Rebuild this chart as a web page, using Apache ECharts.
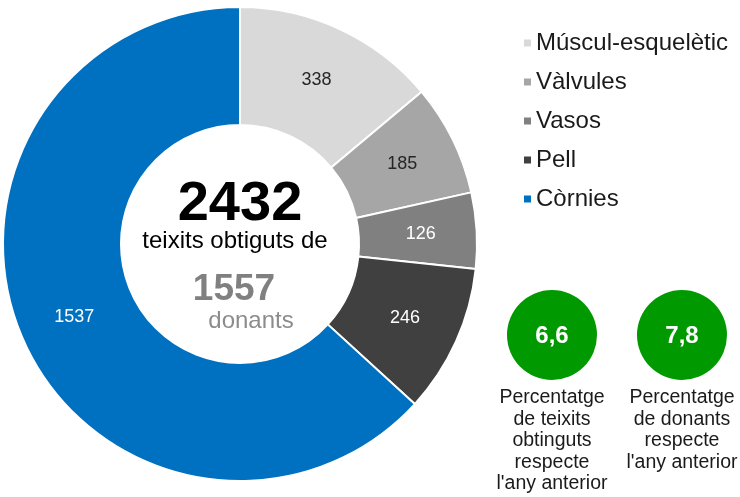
<!DOCTYPE html>
<html>
<head>
<meta charset="utf-8">
<script src="https://cdn.jsdelivr.net/npm/echarts@6/dist/echarts.min.js"></script>
<style>
  html, body { margin: 0; padding: 0; background: #fff; }
  #chart { width: 740px; height: 497px; }
</style>
</head>
<body>
<div id="chart"></div>
<script>
// Teixits obtinguts per tipus
const categories = ['Múscul-esquelètic', 'Vàlvules', 'Vasos', 'Pell', 'Còrnies'];
const tissueCounts = [338, 185, 126, 246, 1537];
const sliceColors = ['#d9d9d9', '#a6a6a6', '#808080', '#404040', '#0070c0'];
const labelColors = ['#262626', '#262626', '#ffffff', '#ffffff', '#ffffff'];

// Donants i variació respecte l'any anterior
const donorCount = 1557;
const growthValues = ['6,6', '7,8'];
const growthCaptions = [
  'Percentatge\nde teixits\nobtinguts\nrespecte\nl\'any anterior',
  'Percentatge\nde donants\nrespecte\nl\'any anterior'
];

const FONT = '"Liberation Sans", Arial, sans-serif';
const totalTissues = tissueCounts.reduce((a, b) => a + b, 0);

const chart = echarts.init(document.getElementById('chart'), null, { renderer: 'canvas' });

const pieData = categories.map((name, i) => ({
  name: name,
  value: tissueCounts[i],
  itemStyle: { color: sliceColors[i] },
  label: { color: labelColors[i] }
}));

const growthX = [552, 682];
const growthGraphics = [];
growthValues.forEach((v, i) => {
  growthGraphics.push({
    type: 'circle',
    shape: { cx: growthX[i], cy: 335, r: 45 },
    style: { fill: '#009a00' },
    silent: true
  });
  growthGraphics.push({
    type: 'text',
    x: growthX[i], y: 336,
    style: {
      text: v, fill: '#ffffff', font: 'bold 24px ' + FONT,
      textAlign: 'center', textVerticalAlign: 'middle'
    },
    silent: true
  });
  growthGraphics.push({
    type: 'text',
    x: growthX[i], y: 387,
    style: {
      text: growthCaptions[i], fill: '#1a1a1a', font: '19.5px ' + FONT,
      textAlign: 'center', textVerticalAlign: 'top', lineHeight: 21.5
    },
    silent: true
  });
});

const option = {
  animation: false,
  backgroundColor: '#ffffff',
  legend: {
    orient: 'vertical',
    left: 517,
    top: 26,
    icon: 'rect',
    itemWidth: 9,
    itemHeight: 9,
    itemGap: 15,
    selectedMode: false,
    data: categories,
    textStyle: { fontFamily: FONT, fontSize: 24, color: '#1a1a1a', lineHeight: 24, padding: [0, 0, 0, -1] }
  },
  series: [{
    type: 'pie',
    center: [240, 244],
    radius: [119, 237],
    startAngle: 90,
    clockwise: true,
    avoidLabelOverlap: false,
    silent: true,
    itemStyle: { borderColor: '#ffffff', borderWidth: 2 },
    label: {
      show: true,
      position: 'inside',
      fontFamily: FONT,
      fontSize: 18,
      formatter: '{c}'
    },
    labelLine: { show: false },
    data: pieData
  }],
  graphic: [
    {
      type: 'text', x: 240, y: 205,
      style: {
        text: String(totalTissues), fill: '#000000', font: 'bold 56px ' + FONT,
        textAlign: 'center', textVerticalAlign: 'middle'
      },
      silent: true
    },
    {
      type: 'text', x: 235, y: 241,
      style: {
        text: 'teixits obtiguts de', fill: '#000000', font: '24px ' + FONT,
        textAlign: 'center', textVerticalAlign: 'middle'
      },
      silent: true
    },
    {
      type: 'text', x: 234, y: 290,
      style: {
        text: String(donorCount), fill: '#808080', font: 'bold 37px ' + FONT,
        textAlign: 'center', textVerticalAlign: 'middle'
      },
      silent: true
    },
    {
      type: 'text', x: 251, y: 321,
      style: {
        text: 'donants', fill: '#8c8c8c', font: '24px ' + FONT,
        textAlign: 'center', textVerticalAlign: 'middle'
      },
      silent: true
    }
  ].concat(growthGraphics)
};

chart.setOption(option);
</script>
</body>
</html>
